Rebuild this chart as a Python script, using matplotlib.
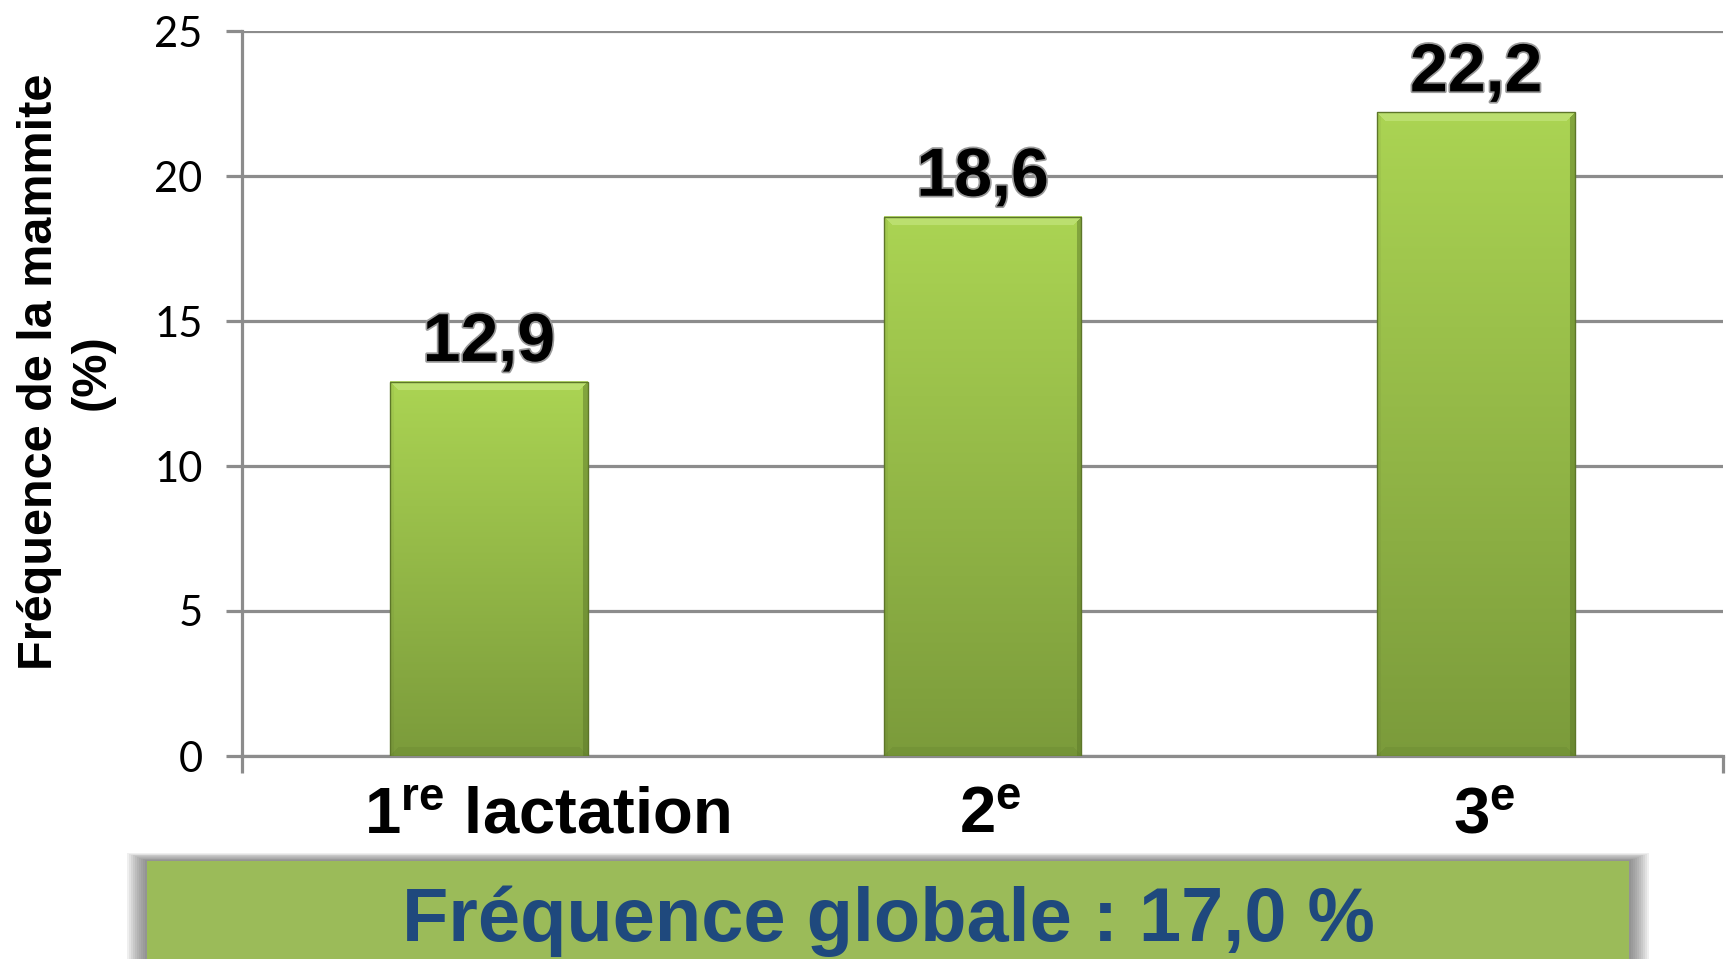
import numpy as np
import matplotlib
matplotlib.use("Agg")
import matplotlib.pyplot as plt
from matplotlib.patches import Rectangle
from matplotlib import patheffects as pe
from matplotlib.colors import to_rgb
from matplotlib.transforms import ScaledTranslation

# Data
categories = ["1$^{\\mathrm{re}}$ lactation", "2$^{\\mathrm{e}}$", "3$^{\\mathrm{e}}$"]
frequences = [12.9, 18.6, 22.2]
y_ticks = [0, 5, 10, 15, 20, 25]
frequence_globale = 17.0

plt.rcParams["mathtext.fontset"] = "custom"
plt.rcParams["mathtext.rm"] = "Liberation Sans:bold"
plt.rcParams["mathtext.it"] = "Liberation Sans:bold"
plt.rcParams["mathtext.bf"] = "Liberation Sans:bold"

W, H = 1726, 959
fig = plt.figure(figsize=(W / 100, H / 100), dpi=100)
fig.patch.set_facecolor("white")


def fx(px):
    return px / W


def fy(py):
    return 1 - py / H


ax_left, ax_right, ax_top, ax_bottom = 242, 1723, 31, 756
ax = fig.add_axes([fx(ax_left), fy(ax_bottom), fx(ax_right - ax_left), (ax_bottom - ax_top) / H])

grid_col = "#8c8c8c"
x = np.arange(len(categories))
bars = ax.bar(x, frequences, width=0.4, color="none", edgecolor="#5d7629",
              linewidth=1.0, zorder=4)

ax.set_xlim(-0.5, len(categories) - 0.5)
ax.set_ylim(0, 25)

# Gradient fill with a bevelled edge for every bar
top_c = np.array(to_rgb("#abd453"))
bot_c = np.array(to_rgb("#7b9b3b"))
light_c = np.array(to_rgb("#cdec8c"))
dark_c = np.array(to_rgb("#5a7728"))
for b in bars:
    ext = b.get_window_extent()
    pw, ph = int(round(ext.width)), int(round(ext.height))
    t = np.linspace(0, 1, ph)[:, None, None]
    img = (1 - t) * top_c + t * bot_c
    img = np.repeat(img, pw, axis=1)
    rows = np.arange(ph)[:, None]
    cols = np.arange(pw)[None, :]
    bev = 9
    # top bevel (light), chamfered corners
    top_mask = (rows < bev) & (cols >= rows) & (cols <= pw - 1 - rows)
    img[top_mask] = 0.5 * img[top_mask] + 0.5 * light_c
    # bottom bevel (dark)
    rb = ph - 1 - rows
    bot_mask = (rb < bev) & (cols >= rb) & (cols <= pw - 1 - rb)
    img[bot_mask] = 0.8 * img[bot_mask] + 0.2 * dark_c
    # side bevels
    left_mask = np.broadcast_to((cols < 4) & ~top_mask, (ph, pw))
    img[left_mask] *= 0.96
    rm = np.broadcast_to((cols >= pw - 5) & ~top_mask, (ph, pw))
    img[rm] = 0.5 * img[rm] + 0.5 * dark_c
    x0 = b.get_x()
    ax.imshow(img, extent=(x0, x0 + b.get_width(), 0, b.get_height()),
              aspect="auto", interpolation="bilinear", zorder=3)

ax.set_xlim(-0.5, len(categories) - 0.5)
ax.set_ylim(0, 25)

# Grid and axes styling
ax.set_axisbelow(True)
ax.yaxis.grid(True, color=grid_col, linewidth=2.3)
for s in ["top", "right"]:
    ax.spines[s].set_visible(False)
for s in ["left", "bottom"]:
    ax.spines[s].set_color(grid_col)
    ax.spines[s].set_linewidth(2.3)

ax.set_yticks(y_ticks)
ax.set_yticklabels([str(v) for v in y_ticks], fontfamily="Lato", fontsize=30)
ax.tick_params(axis="y", length=11.5, width=2.3, color=grid_col, pad=17, labelcolor="black")

ax.set_xticks(x)
ax.set_xticklabels(categories, fontfamily="Liberation Sans", fontweight="bold", fontsize=47)
ax.tick_params(axis="x", length=0, pad=22)
ax.set_xticks([-0.5, len(categories) - 0.5], minor=True)
ax.tick_params(axis="x", which="minor", length=12, width=2.3, color=grid_col)
# category labels sit slightly to the right of their ticks
for i, lab in enumerate(ax.get_xticklabels()):
    dx = 0.58 if i == 0 else 0.08
    lab.set_transform(lab.get_transform() + ScaledTranslation(dx, 0, fig.dpi_scale_trans))

# Two-line rotated axis title
fig.text(fx(66), fy(372), "Fréquence de la mammite\n(%)", rotation=90,
         ha="center", va="center", multialignment="center",
         fontfamily="Liberation Sans", fontweight="bold", fontsize=35, linespacing=1.2)

# Value labels
for b, v in zip(bars, frequences):
    ax.annotate(f"{v:.1f}".replace(".", ","),
                xy=(b.get_x() + b.get_width() / 2, v), xytext=(0, 15),
                textcoords="offset points", ha="center", va="baseline",
                fontfamily="Liberation Sans", fontweight="bold", fontsize=49,
                color="black", zorder=5,
                path_effects=[pe.withStroke(linewidth=2.5, foreground="#9a9a9a")])

# Summary banner with soft shadow
bx0, bx1, by0 = 147, 1629, 861
for i in range(10, 0, -1):
    d = i * 2.0
    fig.patches.append(Rectangle((fx(bx0 - d), 0), fx(bx1 - bx0 + 2 * d),
                                 fy(by0 - d * 0.4), transform=fig.transFigure,
                                 facecolor="#555555", alpha=0.09, edgecolor="none",
                                 zorder=1))
fig.patches.append(Rectangle((fx(bx0), 0), fx(bx1 - bx0), fy(by0),
                             transform=fig.transFigure, facecolor="#9bbb59",
                             edgecolor="none", zorder=2))
fig.text(fx((bx0 + bx1) / 2), fy(941),
         f"Fréquence globale : {frequence_globale:.1f} %".replace(".", ","),
         ha="center", va="baseline", fontfamily="Liberation Sans",
         fontweight="bold", fontsize=54.5, color="#1f497d", zorder=3)

fig.savefig("out.png", dpi=100, facecolor="white")
